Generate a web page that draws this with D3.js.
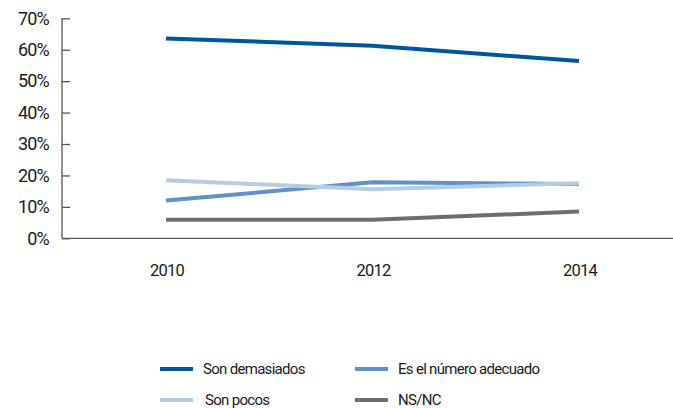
<!DOCTYPE html>
<html><head><meta charset="utf-8">
<script src="https://cdn.jsdelivr.net/npm/d3@7"></script>
<style>body{margin:0;background:#fff}svg{display:block}text{font-family:Roboto,"Noto Sans",sans-serif;fill:#1a1a1a}</style>
</head><body><svg id="c" width="673" height="408"></svg>
<script>
const years = ["2010","2012","2014"];
const seriesNames = ["Son demasiados","Es el número adecuado","Son pocos","NS/NC"];
const sonDemasiados = [63.6, 61.3, 56.4];
const numeroAdecuado = [12.0, 17.8, 17.3];
const sonPocos = [18.5, 15.6, 17.5];
const nsnc = [5.9, 5.9, 8.5];
const yTicks = [0,10,20,30,40,50,60,70];
const colors = ["#0055a0","#5f92c6","#b4cde4","#6d6d70"];

const series = [sonDemasiados, numeroAdecuado, sonPocos, nsnc];
const svg = d3.select("#c");
const x = d3.scalePoint().domain(years).range([166, 579]);
const y = d3.scaleLinear().domain([0,70]).range([238.3, 18.3]);

// y axis
const ya = svg.append("g").attr("transform","translate(62,0)")
  .call(d3.axisRight(y).tickValues(yTicks).tickSize(8).tickFormat(d=>d+"%"));
ya.select(".domain").attr("stroke","#555").attr("stroke-width",1.3).attr("d","M0,18.3V238.3");
ya.selectAll(".tick line").attr("stroke","#555").attr("stroke-width",1.3);
ya.selectAll(".tick text").attr("x",-13).attr("text-anchor","end").attr("fill","#1a1a1a")
  .style("font-size","18px").style("letter-spacing","-0.8px");

// x axis line
svg.append("line").attr("x1",62).attr("x2",673).attr("y1",y(0)).attr("y2",y(0))
  .attr("stroke","#555").attr("stroke-width",1.3);
svg.append("g").selectAll("text").data(years).join("text")
  .attr("x",d=>x(d)+1).attr("y",276).attr("text-anchor","middle")
  .style("font-size","16.5px").style("letter-spacing","-0.8px").text(d=>d);

const line = d3.line().x((d,i)=>x(years[i])).y(d=>y(d));
const order = [3,1,2,0];
order.forEach(k=>{
  svg.append("path").attr("d",line(series[k])).attr("fill","none")
    .attr("stroke",colors[k]).attr("stroke-width",4);
});

// legend
const lg = [{k:0,x:160,y:369},{k:1,x:355,y:369},{k:2,x:160,y:400},{k:3,x:355,y:400}];
lg.forEach(o=>{
  svg.append("line").attr("x1",o.x).attr("x2",o.x+33).attr("y1",o.y).attr("y2",o.y)
    .attr("stroke",colors[o.k]).attr("stroke-width",4);
  svg.append("text").attr("x",o.x+43+(o.k==2?2:0)).attr("y",o.y+5)
    .style("font-size","15px").style("letter-spacing","-0.7px").text(seriesNames[o.k]);
});
</script></body></html>
